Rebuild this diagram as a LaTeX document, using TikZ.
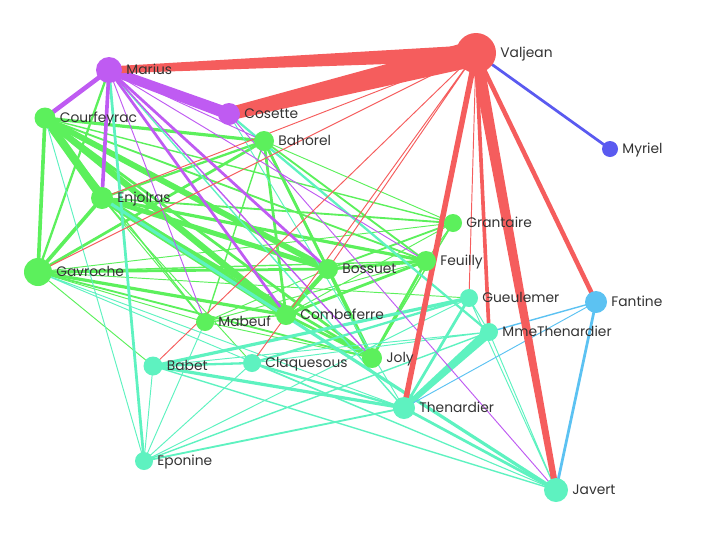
\documentclass[tikz,border=0pt]{standalone}
\usepackage{fontspec}
\setmainfont{Poppins}
\usetikzlibrary{backgrounds,calc}
\definecolor{Ink}{HTML}{333333}
\definecolor{RedGroup}{HTML}{F55D5D}
\definecolor{PurpleGroup}{HTML}{BF5BF2}
\definecolor{GreenGroup}{HTML}{5CF05C}
\definecolor{TealGroup}{HTML}{5EF2C0}
\definecolor{BlueGroup}{HTML}{5A5AF0}
\definecolor{SkyGroup}{HTML}{5CC2F2}
\newcommand{\taperlink}[5]{\fill[#5] ($(#1.center)!#3!90:(#2.center)$) -- ($(#2.center)!#4!-90:(#1.center)$)
  -- ($(#2.center)!#4!90:(#1.center)$) -- ($(#1.center)!#3!-90:(#2.center)$) -- cycle;}

\begin{document}
\begin{tikzpicture}[x=1pt, y=-1pt,
  every label/.style={font=\fontsize{13.8}{14}\selectfont, text=Ink, inner sep=0pt, text height=9.6pt, text depth=0pt},
  label distance=4pt,
  person/.style={circle, inner sep=0pt, minimum size=#1}]
  \useasboundingbox (0,0) rectangle (719,536);
  \node[person=40pt, fill=RedGroup, label=right:Valjean] (valjean) at (476,53) {};
  \node[person=16pt, fill=BlueGroup, label=right:Myriel] (myriel) at (610,149) {};
  \node[person=26pt, fill=PurpleGroup, label=right:Marius] (marius) at (109,70) {};
  \node[person=22pt, fill=PurpleGroup, label=right:Cosette] (cosette) at (229,114) {};
  \node[person=21pt, fill=GreenGroup, label=right:Courfeyrac] (courfeyrac) at (45,118) {};
  \node[person=20pt, fill=GreenGroup, label=right:Bahorel] (bahorel) at (264,141) {};
  \node[person=22pt, fill=GreenGroup, label=right:Enjolras] (enjolras) at (102,198) {};
  \node[person=18pt, fill=GreenGroup, label=right:Grantaire] (grantaire) at (453,223) {};
  \node[person=28pt, fill=GreenGroup, label=right:Gavroche] (gavroche) at (38,272) {};
  \node[person=20pt, fill=GreenGroup, label=right:Bossuet] (bossuet) at (328,269) {};
  \node[person=20pt, fill=GreenGroup, label=right:Feuilly] (feuilly) at (426,261) {};
  \node[person=18pt, fill=TealGroup, label=right:Gueulemer] (gueulemer) at (469,298) {};
  \node[person=22pt, fill=SkyGroup, label=right:Fantine] (fantine) at (596,302) {};
  \node[person=18pt, fill=GreenGroup, label=right:Mabeuf] (mabeuf) at (205,322) {};
  \node[person=20pt, fill=GreenGroup, label=right:Combeferre] (combeferre) at (286,315) {};
  \node[person=18pt, fill=TealGroup, label=right:MmeThenardier] (mmethenardier) at (489,332) {};
  \node[person=20pt, fill=GreenGroup, label=right:Joly] (joly) at (372,358) {};
  \node[person=19pt, fill=TealGroup, label=right:Babet] (babet) at (153,366) {};
  \node[person=18pt, fill=TealGroup, label=right:Claquesous] (claquesous) at (252,363) {};
  \node[person=22pt, fill=TealGroup, label=right:Thenardier] (thenardier) at (404,408) {};
  \node[person=18pt, fill=TealGroup, label=right:Eponine] (eponine) at (144,461) {};
  \node[person=24pt, fill=TealGroup, label=right:Javert] (javert) at (556,490) {};
  \begin{scope}[on background layer]
    \draw[GreenGroup, line width=0.95pt] (enjolras.center) -- (mabeuf.center) (feuilly.center) -- (mabeuf.center)
      (bossuet.center) -- (mabeuf.center) (joly.center) -- (mabeuf.center) (grantaire.center) -- (combeferre.center)
      (grantaire.center) -- (gavroche.center) (grantaire.center) -- (bahorel.center) (grantaire.center) -- (feuilly.center)
      (mabeuf.center) -- (gavroche.center) (babet.center) -- (gavroche.center) (gueulemer.center) -- (gavroche.center)
      (claquesous.center) -- (enjolras.center);
    \draw[GreenGroup, line width=1.4pt] (feuilly.center) -- (gavroche.center) (courfeyrac.center) -- (mabeuf.center)
      (bahorel.center) -- (mabeuf.center) (combeferre.center) -- (mabeuf.center) (grantaire.center) -- (courfeyrac.center)
      (grantaire.center) -- (joly.center);
    \draw[GreenGroup, line width=1.85pt] (courfeyrac.center) -- (feuilly.center) (bahorel.center) -- (feuilly.center)
      (joly.center) -- (gavroche.center) (grantaire.center) -- (bossuet.center) (grantaire.center) -- (enjolras.center);
    \draw[GreenGroup, line width=2.3pt] (bahorel.center) -- (enjolras.center) (bossuet.center) -- (bahorel.center)
      (marius.center) -- (gavroche.center);
    \draw[GreenGroup, line width=2.75pt] (bahorel.center) -- (combeferre.center) (bahorel.center) -- (gavroche.center)
      (feuilly.center) -- (combeferre.center) (bossuet.center) -- (gavroche.center) (joly.center) -- (bahorel.center)
      (joly.center) -- (courfeyrac.center) (joly.center) -- (enjolras.center) (joly.center) -- (feuilly.center)
      (joly.center) -- (combeferre.center);
    \draw[GreenGroup, line width=3.2pt] (feuilly.center) -- (enjolras.center) (combeferre.center) -- (gavroche.center)
      (bahorel.center) -- (courfeyrac.center) (bossuet.center) -- (feuilly.center);
    \draw[GreenGroup, line width=3.65pt] (enjolras.center) -- (gavroche.center) (courfeyrac.center) -- (gavroche.center)
      (joly.center) -- (bossuet.center);
    \draw[GreenGroup, line width=4.55pt] (bossuet.center) -- (combeferre.center);
    \draw[GreenGroup, line width=5pt] (bossuet.center) -- (enjolras.center);
    \draw[GreenGroup, line width=5.9pt] (bossuet.center) -- (courfeyrac.center);
    \draw[GreenGroup, line width=6.35pt] (courfeyrac.center) -- (combeferre.center);
    \draw[GreenGroup, line width=7.25pt] (combeferre.center) -- (enjolras.center);
    \draw[GreenGroup, line width=8.15pt] (courfeyrac.center) -- (enjolras.center);
    \draw[TealGroup, line width=0.95pt] (thenardier.center) -- (cosette.center) (thenardier.center) -- (gavroche.center)
      (mmethenardier.center) -- (javert.center) (mmethenardier.center) -- (gueulemer.center)
      (mmethenardier.center) -- (babet.center) (mmethenardier.center) -- (claquesous.center)
      (javert.center) -- (gueulemer.center) (javert.center) -- (claquesous.center) (javert.center) -- (gavroche.center)
      (eponine.center) -- (courfeyrac.center) (eponine.center) -- (mabeuf.center) (eponine.center) -- (gueulemer.center)
      (eponine.center) -- (babet.center) (eponine.center) -- (claquesous.center);
    \draw[TealGroup, line width=1.4pt] (thenardier.center) -- (marius.center) (mmethenardier.center) -- (eponine.center)
      (javert.center) -- (babet.center);
    \draw[TealGroup, line width=1.85pt] (thenardier.center) -- (eponine.center);
    \draw[TealGroup, line width=2.3pt] (thenardier.center) -- (claquesous.center) (mmethenardier.center) -- (cosette.center)
      (gueulemer.center) -- (claquesous.center) (babet.center) -- (claquesous.center);
    \draw[TealGroup, line width=2.75pt] (thenardier.center) -- (gueulemer.center) (thenardier.center) -- (javert.center)
      (eponine.center) -- (marius.center);
    \draw[TealGroup, line width=3.2pt] (thenardier.center) -- (babet.center) (javert.center) -- (enjolras.center)
      (gueulemer.center) -- (babet.center);
    \taperlink{thenardier}{mmethenardier}{2.5pt}{5pt}{TealGroup}
    \draw[PurpleGroup, line width=0.95pt] (marius.center) -- (mabeuf.center) (marius.center) -- (feuilly.center)
      (marius.center) -- (bahorel.center) (cosette.center) -- (javert.center);
    \draw[PurpleGroup, line width=1.4pt] (marius.center) -- (joly.center);
    \draw[PurpleGroup, line width=2.75pt] (marius.center) -- (combeferre.center) (marius.center) -- (bossuet.center);
    \draw[PurpleGroup, line width=3.65pt] (marius.center) -- (enjolras.center);
    \draw[PurpleGroup, line width=4.55pt] (marius.center) -- (courfeyrac.center);
    \taperlink{marius}{cosette}{4.5pt}{6pt}{PurpleGroup}
    \draw[SkyGroup, line width=0.95pt] (fantine.center) -- (thenardier.center);
    \draw[SkyGroup, line width=1.4pt] (fantine.center) -- (mmethenardier.center);
    \draw[SkyGroup, line width=2.75pt] (fantine.center) -- (javert.center);
    \draw[BlueGroup, line width=2.75pt] (valjean.center) -- (myriel.center);
    \draw[RedGroup, line width=0.95pt] (valjean.center) -- (gavroche.center) (valjean.center) -- (bossuet.center)
      (valjean.center) -- (gueulemer.center) (valjean.center) -- (babet.center) (valjean.center) -- (claquesous.center)
      (valjean.center) -- (enjolras.center);
    \draw[RedGroup, line width=3.65pt] (valjean.center) -- (mmethenardier.center);
    \draw[RedGroup, line width=4.55pt] (valjean.center) -- (fantine.center);
    \draw[RedGroup, line width=5.5pt] (valjean.center) -- (thenardier.center);
    \taperlink{javert}{valjean}{3pt}{6pt}{RedGroup}
    \taperlink{marius}{valjean}{3.5pt}{8pt}{RedGroup}
    \taperlink{cosette}{valjean}{6.5pt}{13pt}{RedGroup}
  \end{scope}
\end{tikzpicture}
\end{document}
